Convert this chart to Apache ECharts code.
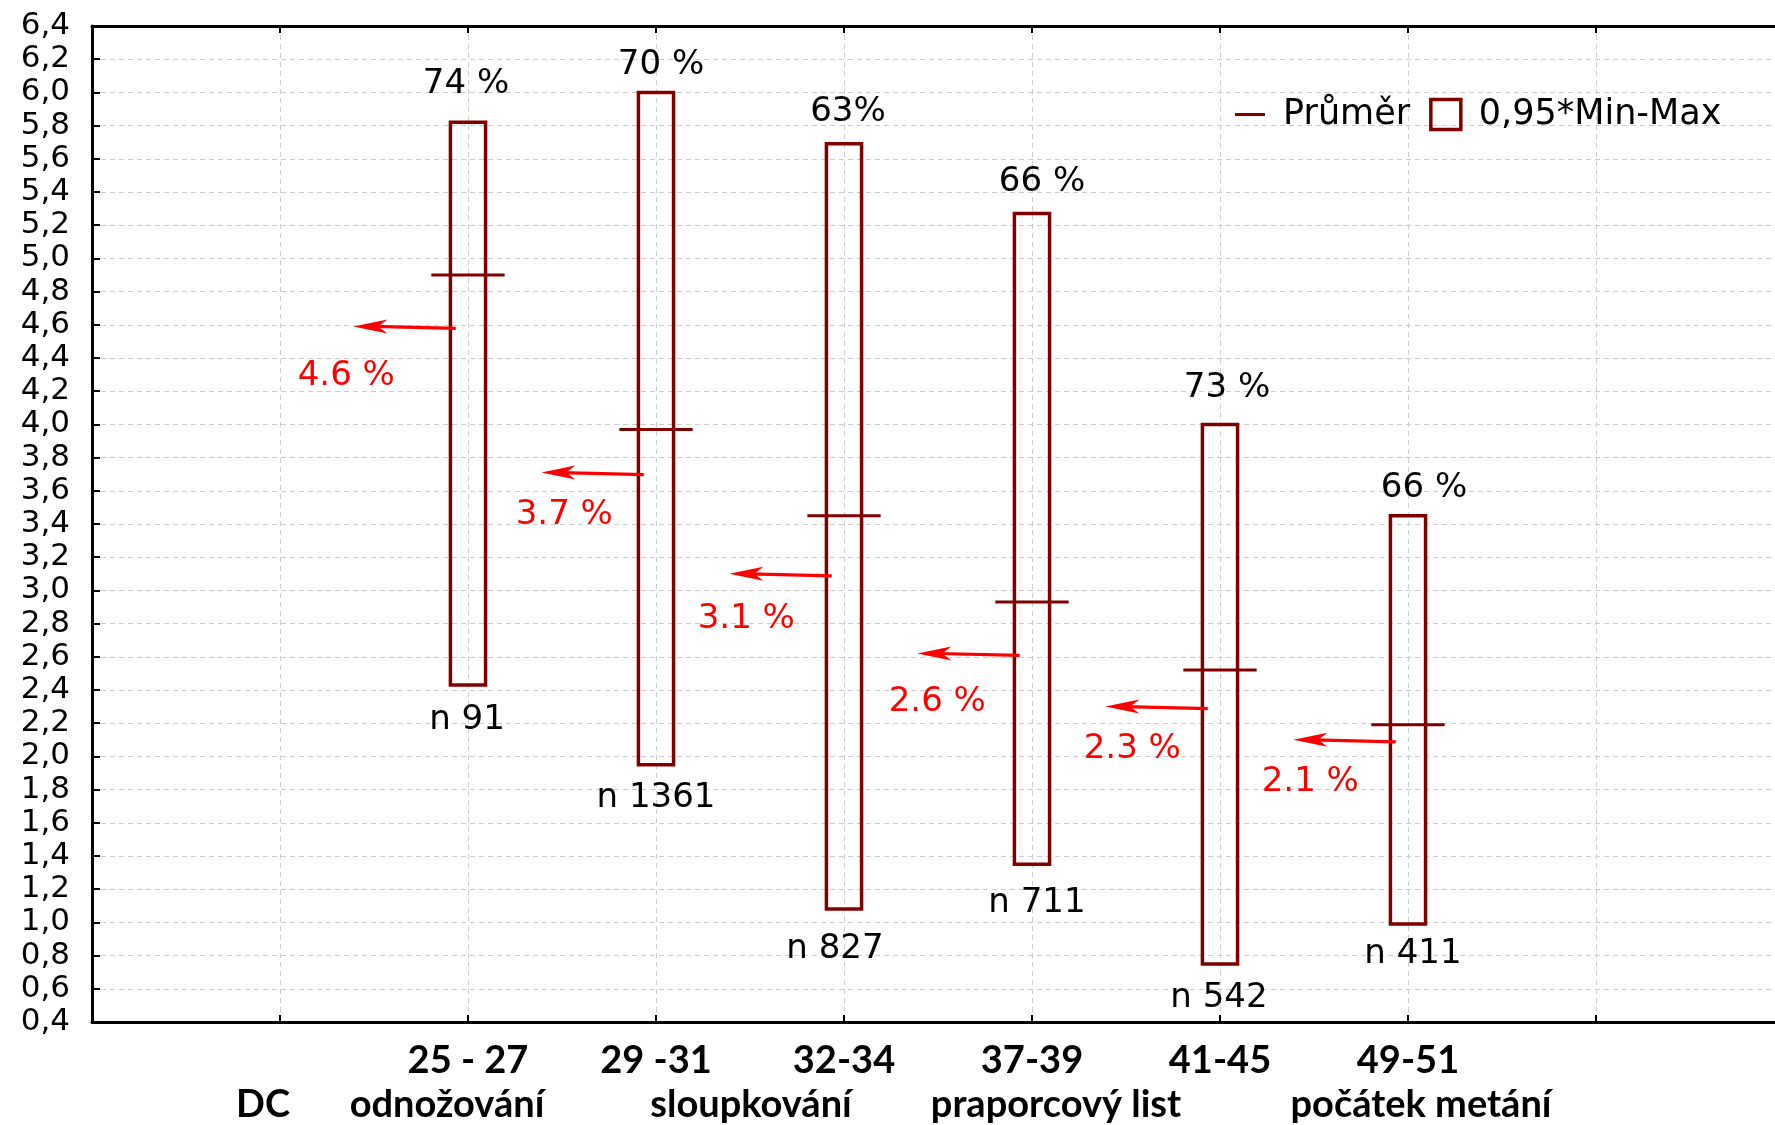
<!DOCTYPE html>
<html>
<head>
<meta charset="utf-8">
<script src="https://cdn.jsdelivr.net/npm/echarts@6/dist/echarts.min.js"></script>
<style>
html, body { margin: 0; padding: 0; background: #fff; }
#chart { width: 1775px; height: 1125px; }
</style>
</head>
<body>
<div id="chart"></div>
<script>
// x position 1 = DC, 2..7 = the growth stages below
const stageTicks = ['25 - 27', '29 -31', '32-34', '37-39', '41-45', '49-51'];
const phaseNames = ['DC', 'odnožování', 'sloupkování', 'praporcový list', 'počátek metání'];

// 0,95*Min-Max boxes and means
const boxMin = [2.43, 1.95, 1.08, 1.35, 0.75, 0.99];
const boxMax = [5.82, 6.00, 5.69, 5.27, 4.00, 3.45];
const means  = [4.90, 3.97, 3.45, 2.93, 2.52, 2.19];

// text above / below each box
const shareLabels = ['74 %', '70 %', '63%', '66 %', '73 %', '66 %'];
const counts = [91, 1361, 827, 711, 542, 411];

// red arrows
const arrowValues = [4.59, 3.71, 3.10, 2.62, 2.30, 2.10];
const arrowLabels = ['4.6 %', '3.7 %', '3.1 %', '2.6 %', '2.3 %', '2.1 %'];

const DARK = '#800000';
const FONT = 'DejaVu Sans';
const BOLD = 'Lato';

// label nudges in px (layout only)
const shareOff = [[-2, -38], [5, -27], [4, -32], [10, -31], [7, -36], [16, -28]];
const countOff = [[-1, 35], [0, 33], [-9, 40], [5, 39], [-1, 34], [5, 30]];
const arrowOff = [[-7, 50], [23, 43], [17, 45], [20, 49], [27, 43], [17, 42]];
const phaseX = [263, 447, 751, 1056, 1421];

const chart = echarts.init(document.getElementById('chart'));

function renderBox(params, api) {
  const i = params.dataIndex;
  const x = api.value(0);
  const top = api.coord([x, api.value(2)]);
  const bot = api.coord([x, api.value(1)]);
  const w = api.size([1, 0])[0] * 0.187;
  return {
    type: 'group',
    children: [
      {
        type: 'rect',
        shape: { x: top[0] - w / 2, y: top[1], width: w, height: bot[1] - top[1] },
        style: { fill: 'none', stroke: DARK, lineWidth: 3.5 }
      },
      {
        type: 'text', x: top[0] + shareOff[i][0], y: top[1] + shareOff[i][1],
        style: { text: shareLabels[i], fontSize: 34, fontFamily: FONT, fill: '#000', align: 'center', verticalAlign: 'middle' }
      },
      {
        type: 'text', x: bot[0] + countOff[i][0], y: bot[1] + countOff[i][1],
        style: { text: 'n ' + counts[i], fontSize: 34, fontFamily: FONT, fill: '#000', align: 'center', verticalAlign: 'middle' }
      }
    ]
  };
}

function renderMean(params, api) {
  const p = api.coord([api.value(0), api.value(1)]);
  const w = api.size([1, 0])[0] * 0.39;
  return {
    type: 'line',
    shape: { x1: p[0] - w / 2, y1: p[1], x2: p[0] + w / 2, y2: p[1] },
    style: { stroke: DARK, lineWidth: 3 }
  };
}

function renderArrow(params, api) {
  const i = params.dataIndex;
  const x = api.value(0), v = api.value(1);
  const a = api.coord([x - 0.065, v - 0.012]);
  const b = api.coord([x - 0.61, v]);
  return {
    type: 'group',
    children: [
      {
        type: 'line',
        shape: { x1: a[0], y1: a[1], x2: b[0] + 20, y2: b[1] },
        style: { stroke: '#ff0000', lineWidth: 3.2 }
      },
      {
        type: 'polygon',
        shape: { points: [[b[0], b[1]], [b[0] + 34, b[1] - 7], [b[0] + 25, b[1]], [b[0] + 34, b[1] + 7]] },
        style: { fill: '#ff0000' }
      },
      {
        type: 'text', x: b[0] + arrowOff[i][0], y: b[1] + arrowOff[i][1],
        style: { text: arrowLabels[i], fontSize: 34, fontFamily: FONT, fill: '#ff0000', align: 'center', verticalAlign: 'middle' }
      }
    ]
  };
}

chart.setOption({
  animation: false,
  backgroundColor: '#fff',
  grid: { left: 92, top: 26, width: 1692, height: 996, containLabel: false, outerBoundsMode: 'none' },
  legend: {
    left: 1230, top: 92,
    itemWidth: 30, itemHeight: 30, itemGap: 19,
    selectedMode: false,
    textStyle: { fontFamily: FONT, fontSize: 35, color: '#000', padding: [0, 0, 0, 13] },
    data: [
      { name: 'Průměr', icon: 'path://M0,0H30V3H0Z', itemStyle: { color: DARK, borderWidth: 0 } },
      { name: '0,95*Min-Max', icon: 'rect', itemStyle: { color: 'rgba(0,0,0,0)', borderColor: DARK, borderWidth: 3.5 } }
    ]
  },
  xAxis: [
    {
      type: 'value', min: 0, max: 9, interval: 1,
      axisLine: { show: true, lineStyle: { color: '#000', width: 3 } },
      axisTick: { show: true, inside: true, length: 7, lineStyle: { color: '#000', width: 2 } },
      axisLabel: {
        margin: 20, fontFamily: BOLD, fontWeight: 'bold', fontSize: 38, color: '#000',
        formatter: v => stageTicks[v - 2] || ''
      },
      splitLine: { show: true, lineStyle: { color: '#cccccc', type: [5, 4], width: 1 } }
    },
    {
      type: 'value', position: 'top', min: 0, max: 9, interval: 1,
      axisLine: { show: true, lineStyle: { color: '#000', width: 3 } },
      axisTick: { show: true, inside: true, length: 7, lineStyle: { color: '#000', width: 2 } },
      axisLabel: { show: false },
      splitLine: { show: false }
    }
  ],
  yAxis: {
    type: 'value', min: 0.4, max: 6.4, interval: 0.2,
    axisLine: { show: true, lineStyle: { color: '#000', width: 3 } },
    axisTick: { show: true, inside: true, length: 8, lineStyle: { color: '#000', width: 2 } },
    axisLabel: {
      margin: 22, fontFamily: FONT, fontSize: 31, color: '#000',
      formatter: v => v.toFixed(1).replace('.', ',')
    },
    splitLine: { show: true, lineStyle: { color: '#cccccc', type: [5, 4], width: 1 } }
  },
  graphic: phaseNames.map((name, i) => ({
    type: 'text', x: phaseX[i], y: 1105,
    style: { text: name, fontFamily: BOLD, fontWeight: 'bold', fontSize: 38, fill: '#000', align: 'center', verticalAlign: 'middle' }
  })),
  series: [
    {
      name: '0,95*Min-Max', type: 'custom', renderItem: renderBox,
      itemStyle: { color: DARK },
      encode: { x: 0, y: [1, 2] },
      data: boxMin.map((lo, i) => [i + 2, lo, boxMax[i]]),
      z: 3
    },
    {
      name: 'Průměr', type: 'custom', renderItem: renderMean,
      itemStyle: { color: DARK },
      encode: { x: 0, y: 1 },
      data: means.map((m, i) => [i + 2, m]),
      z: 4
    },
    {
      name: 'arrows', type: 'custom', renderItem: renderArrow,
      encode: { x: 0, y: 1 },
      data: arrowValues.map((v, i) => [i + 2, v]),
      z: 5
    }
  ]
});
</script>
</body>
</html>
